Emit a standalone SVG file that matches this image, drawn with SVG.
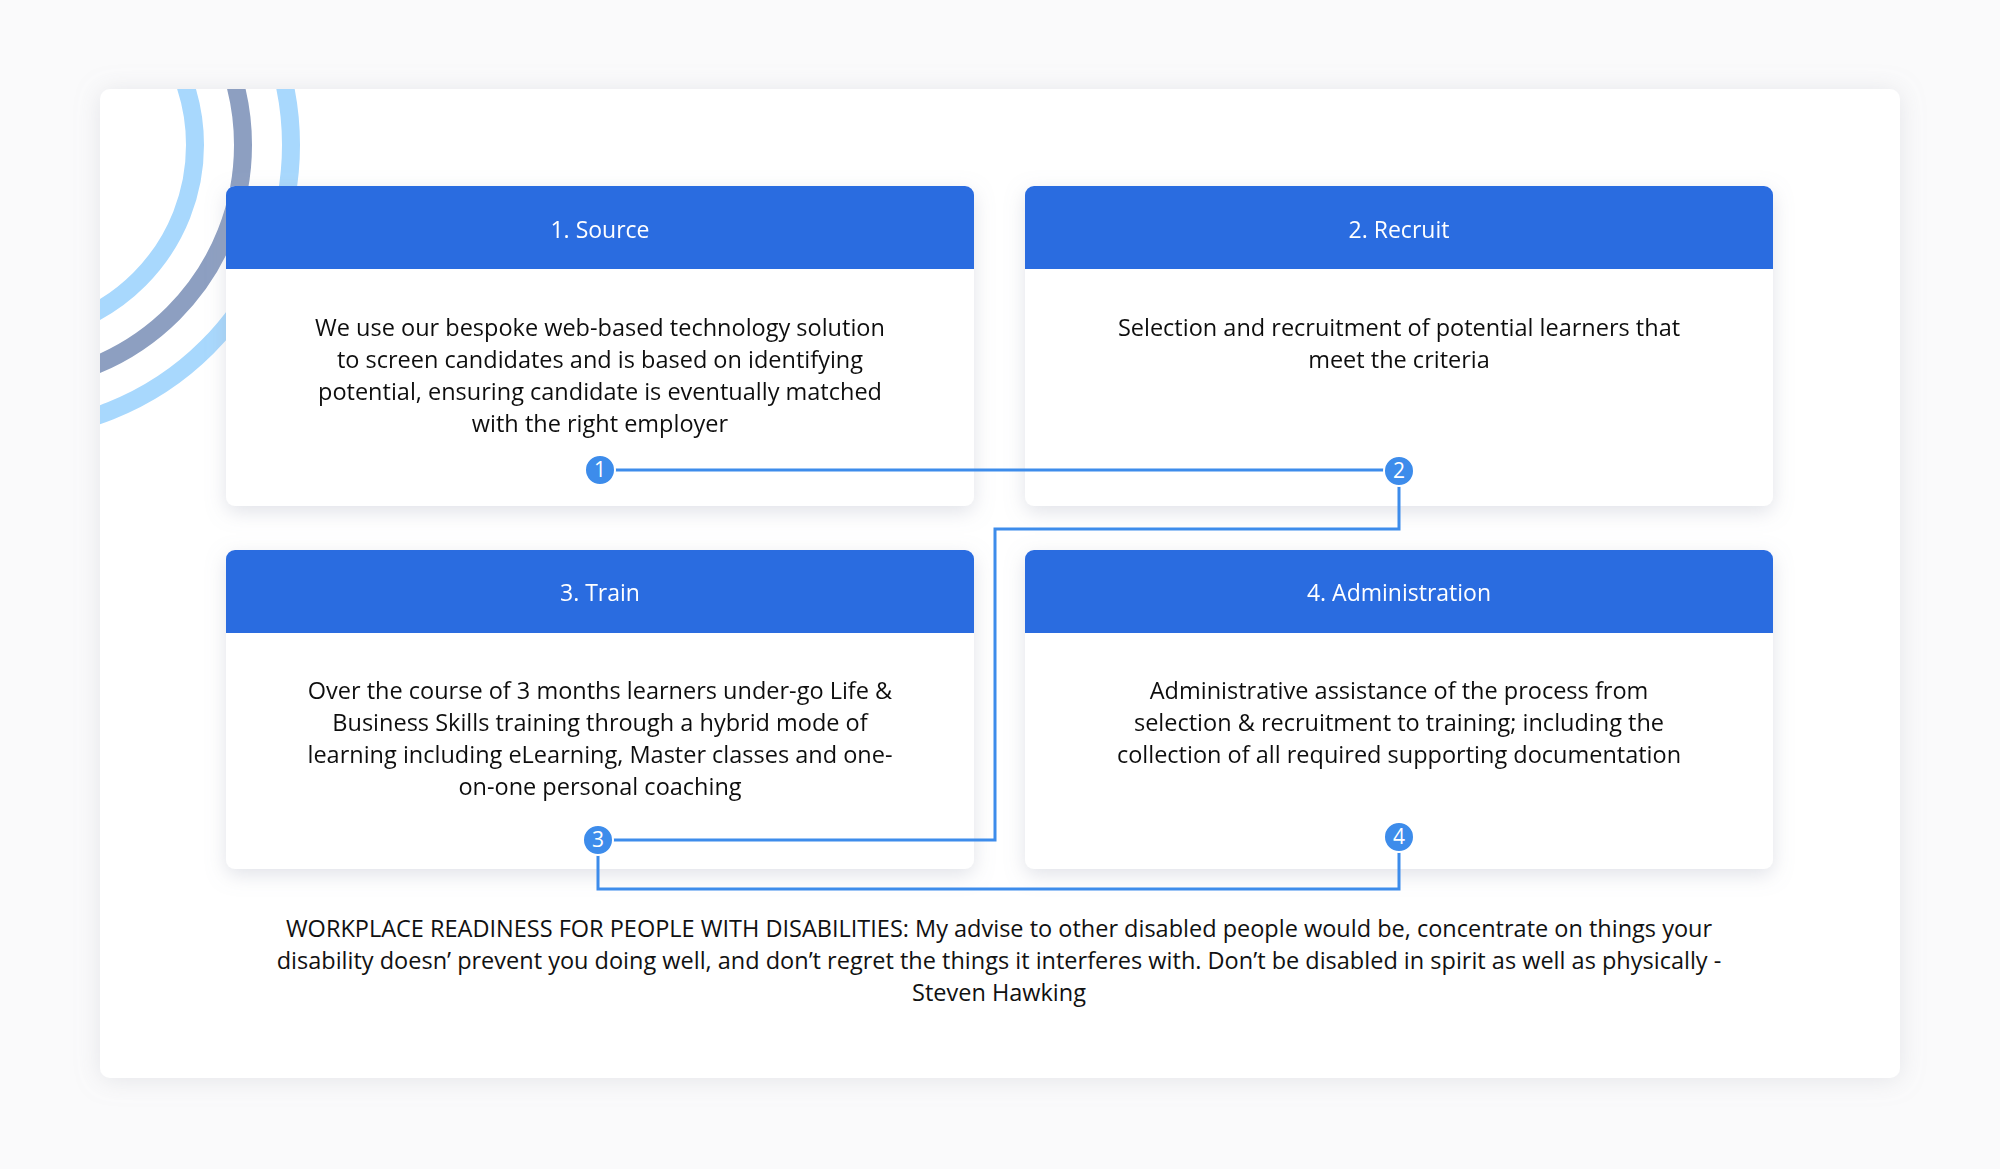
<svg xmlns="http://www.w3.org/2000/svg" width="2000" height="1169" viewBox="0 0 2000 1169">
<defs>
<filter id="sh" x="-10%" y="-10%" width="120%" height="130%"><feDropShadow dx="0" dy="6" stdDeviation="10" flood-color="#9aa0b4" flood-opacity="0.3"/></filter>
<filter id="psh" x="-5%" y="-5%" width="110%" height="110%"><feDropShadow dx="0" dy="2" stdDeviation="12" flood-color="#a0a4b0" flood-opacity="0.25"/></filter>
<clipPath id="pc"><rect x="100" y="89" width="1800" height="989" rx="10"/></clipPath>
<clipPath id="hc1"><rect x="226" y="186" width="748" height="320" rx="9"/></clipPath>
<style>
.card{fill:#fff}
.hdr{fill:#2B6CE0}
.ht{font-family:"Open Sans","Liberation Sans",sans-serif;font-size:23px;font-weight:500;fill:#fff;text-anchor:middle}
.bt{font-family:"Open Sans","Liberation Sans",sans-serif;font-size:23.5px;fill:#111;text-anchor:middle}
.con{fill:none;stroke:#3D8CEB;stroke-width:3}
.bd{fill:#3D8CEB;stroke:#fff;stroke-width:2}
.bn{font-family:"Open Sans","Liberation Sans",sans-serif;font-size:21px;fill:#fff;text-anchor:middle}
.arc{fill:none;stroke-width:18}
</style>
</defs>
<rect width="2000" height="1169" fill="#FAFAFB"/>
<rect x="100" y="89" width="1800" height="989" rx="10" fill="#fff" filter="url(#psh)"/>
<g clip-path="url(#pc)">
<circle class="arc" cx="5" cy="145" r="286" stroke="#A8D8FD"/>
<circle class="arc" cx="5" cy="145" r="238" stroke="#8D9FC1"/>
<circle class="arc" cx="5" cy="145" r="190" stroke="#A8D8FD"/>
</g>
<g id="n1" filter="url(#sh)">
<rect class="card" x="226" y="186" width="748" height="320" rx="9"/>
<path class="hdr" d="M226,269 V195 a9,9 0 0 1 9,-9 H965 a9,9 0 0 1 9,9 V269 Z"/>
<text class="ht" x="600" y="238">1. Source</text>
<text class="bt" x="600" y="336">We use our bespoke web-based technology solution</text>
<text class="bt" x="600" y="368">to screen candidates and is based on identifying</text>
<text class="bt" x="600" y="400">potential, ensuring candidate is eventually matched</text>
<text class="bt" x="600" y="432">with the right employer</text>
</g>
<g id="n2" filter="url(#sh)">
<rect class="card" x="1025" y="186" width="748" height="320" rx="9"/>
<path class="hdr" d="M1025,269 V195 a9,9 0 0 1 9,-9 H1764 a9,9 0 0 1 9,9 V269 Z"/>
<text class="ht" x="1399" y="238">2. Recruit</text>
<text class="bt" x="1399" y="336">Selection and recruitment of potential learners that</text>
<text class="bt" x="1399" y="368">meet the criteria</text>
</g>
<g id="n3" filter="url(#sh)">
<rect class="card" x="226" y="550" width="748" height="319" rx="9"/>
<path class="hdr" d="M226,633 V559 a9,9 0 0 1 9,-9 H965 a9,9 0 0 1 9,9 V633 Z"/>
<text class="ht" x="600" y="601">3. Train</text>
<text class="bt" x="600" y="699">Over the course of 3 months learners under-go Life &amp;</text>
<text class="bt" x="600" y="731">Business Skills training through a hybrid mode of</text>
<text class="bt" x="600" y="763">learning including eLearning, Master classes and one-</text>
<text class="bt" x="600" y="795">on-one personal coaching</text>
</g>
<g id="n4" filter="url(#sh)">
<rect class="card" x="1025" y="550" width="748" height="319" rx="9"/>
<path class="hdr" d="M1025,633 V559 a9,9 0 0 1 9,-9 H1764 a9,9 0 0 1 9,9 V633 Z"/>
<text class="ht" x="1399" y="601">4. Administration</text>
<text class="bt" x="1399" y="699">Administrative assistance of the process from</text>
<text class="bt" x="1399" y="731">selection &amp; recruitment to training; including the</text>
<text class="bt" x="1399" y="763">collection of all required supporting documentation</text>
</g>
<g id="connectors">
<path class="con" d="M600,470 H1399"/>
<path class="con" d="M1399,470 V529 H995 V840 H598"/>
<path class="con" d="M598,840 V889 H1399 V837"/>
</g>
<g id="badges">
<circle class="bd" cx="600" cy="470" r="15"/><text class="bn" x="600" y="477">1</text>
<circle class="bd" cx="1399" cy="471" r="15"/><text class="bn" x="1399" y="478">2</text>
<circle class="bd" cx="598" cy="840" r="15"/><text class="bn" x="598" y="847">3</text>
<circle class="bd" cx="1399" cy="837" r="15"/><text class="bn" x="1399" y="844">4</text>
</g>
<g id="quote">
<text class="bt" x="999" y="937">WORKPLACE READINESS FOR PEOPLE WITH DISABILITIES: My advise to other disabled people would be, concentrate on things your</text>
<text class="bt" x="999" y="969">disability doesn’ prevent you doing well, and don’t regret the things it interferes with. Don’t be disabled in spirit as well as physically -</text>
<text class="bt" x="999" y="1001">Steven Hawking</text>
</g>
</svg>
